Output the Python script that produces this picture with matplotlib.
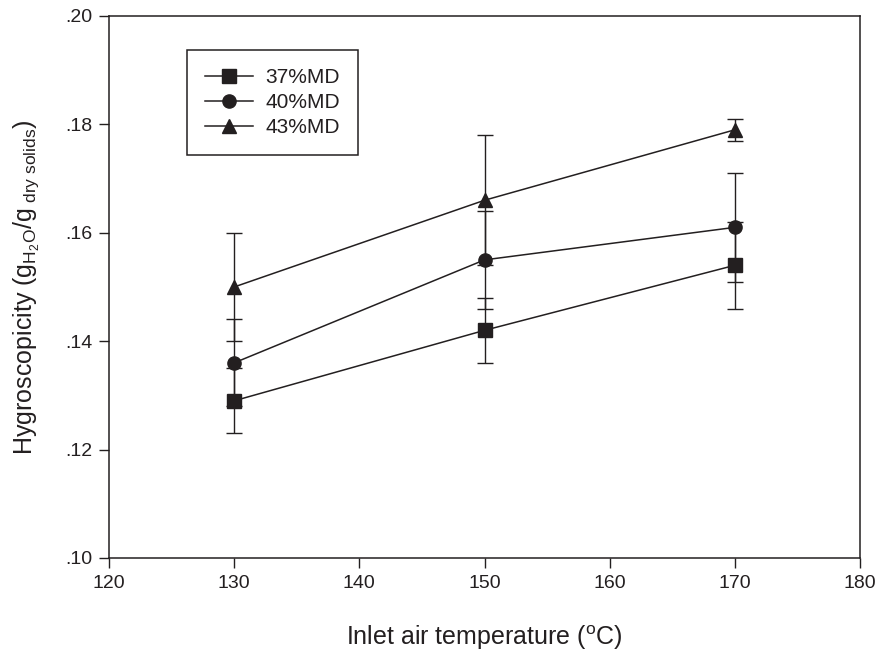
import matplotlib
matplotlib.use("Agg")
import matplotlib.pyplot as plt
from matplotlib.ticker import FuncFormatter, MultipleLocator

plt.rcParams['font.family'] = ['Liberation Sans', 'DejaVu Sans']
plt.rcParams['mathtext.fontset'] = 'custom'
plt.rcParams['mathtext.rm'] = 'Liberation Sans'
plt.rcParams['mathtext.it'] = 'Liberation Sans:italic'

temps = [130, 150, 170]
series = ['37%MD', '40%MD', '43%MD']
values = {
    '37%MD': [0.129, 0.142, 0.154],
    '40%MD': [0.136, 0.155, 0.161],
    '43%MD': [0.150, 0.166, 0.179],
}
errors = {
    '37%MD': [0.006, 0.006, 0.008],
    '40%MD': [0.008, 0.009, 0.010],
    '43%MD': [0.010, 0.012, 0.002],
}
markers = {'37%MD': 's', '40%MD': 'o', '43%MD': '^'}

col = '#231f20'
fig = plt.figure(figsize=(8.81, 6.52), dpi=100)
ax = fig.add_axes([0.1237, 0.1442, 0.8525, 0.8313])

for s in series:
    ax.errorbar(temps, values[s], yerr=errors[s], fmt='none', ecolor=col,
                elinewidth=1.0, capsize=6, capthick=1.0, zorder=2)
    ax.plot(temps, values[s], color=col, lw=1.1, marker=markers[s],
            markersize=9.5 if markers[s] != '^' else 10.5,
            markerfacecolor=col, markeredgecolor=col, label=s, zorder=3)

ax.set_xlim(120, 180)
ax.set_ylim(0.10, 0.20)
ax.xaxis.set_major_locator(MultipleLocator(10))
ax.yaxis.set_major_locator(MultipleLocator(0.02))
ax.yaxis.set_major_formatter(FuncFormatter(lambda v, p: ('%.2f' % v)[1:]))
ax.tick_params(axis='both', direction='out', length=7, width=1, labelsize=14,
               colors=col, pad=5)
ax.tick_params(top=False, right=False)
for sp in ax.spines.values():
    sp.set_color(col)
    sp.set_linewidth(1.1)

ax.set_xlabel(r'Inlet air temperature ($^{\mathrm{o}}$C)', fontsize=18, color=col, labelpad=23)
ax.set_ylabel(r'Hygroscopicity (g$_{\mathrm{H_2O}}$/g$_{\mathrm{\ dry\ solids}}$)',
              fontsize=18, color=col, labelpad=17)

leg = ax.legend(loc='upper left', bbox_to_anchor=(0.104, 0.937), fontsize=15,
                frameon=True, fancybox=False, edgecolor=col, framealpha=1,
                handlelength=2.3, handletextpad=0.6, labelspacing=0.3,
                borderpad=0.85, borderaxespad=0, numpoints=1)
leg.get_frame().set_linewidth(1.1)
for t in leg.get_texts():
    t.set_color(col)

fig.savefig('out.png', dpi=100)
